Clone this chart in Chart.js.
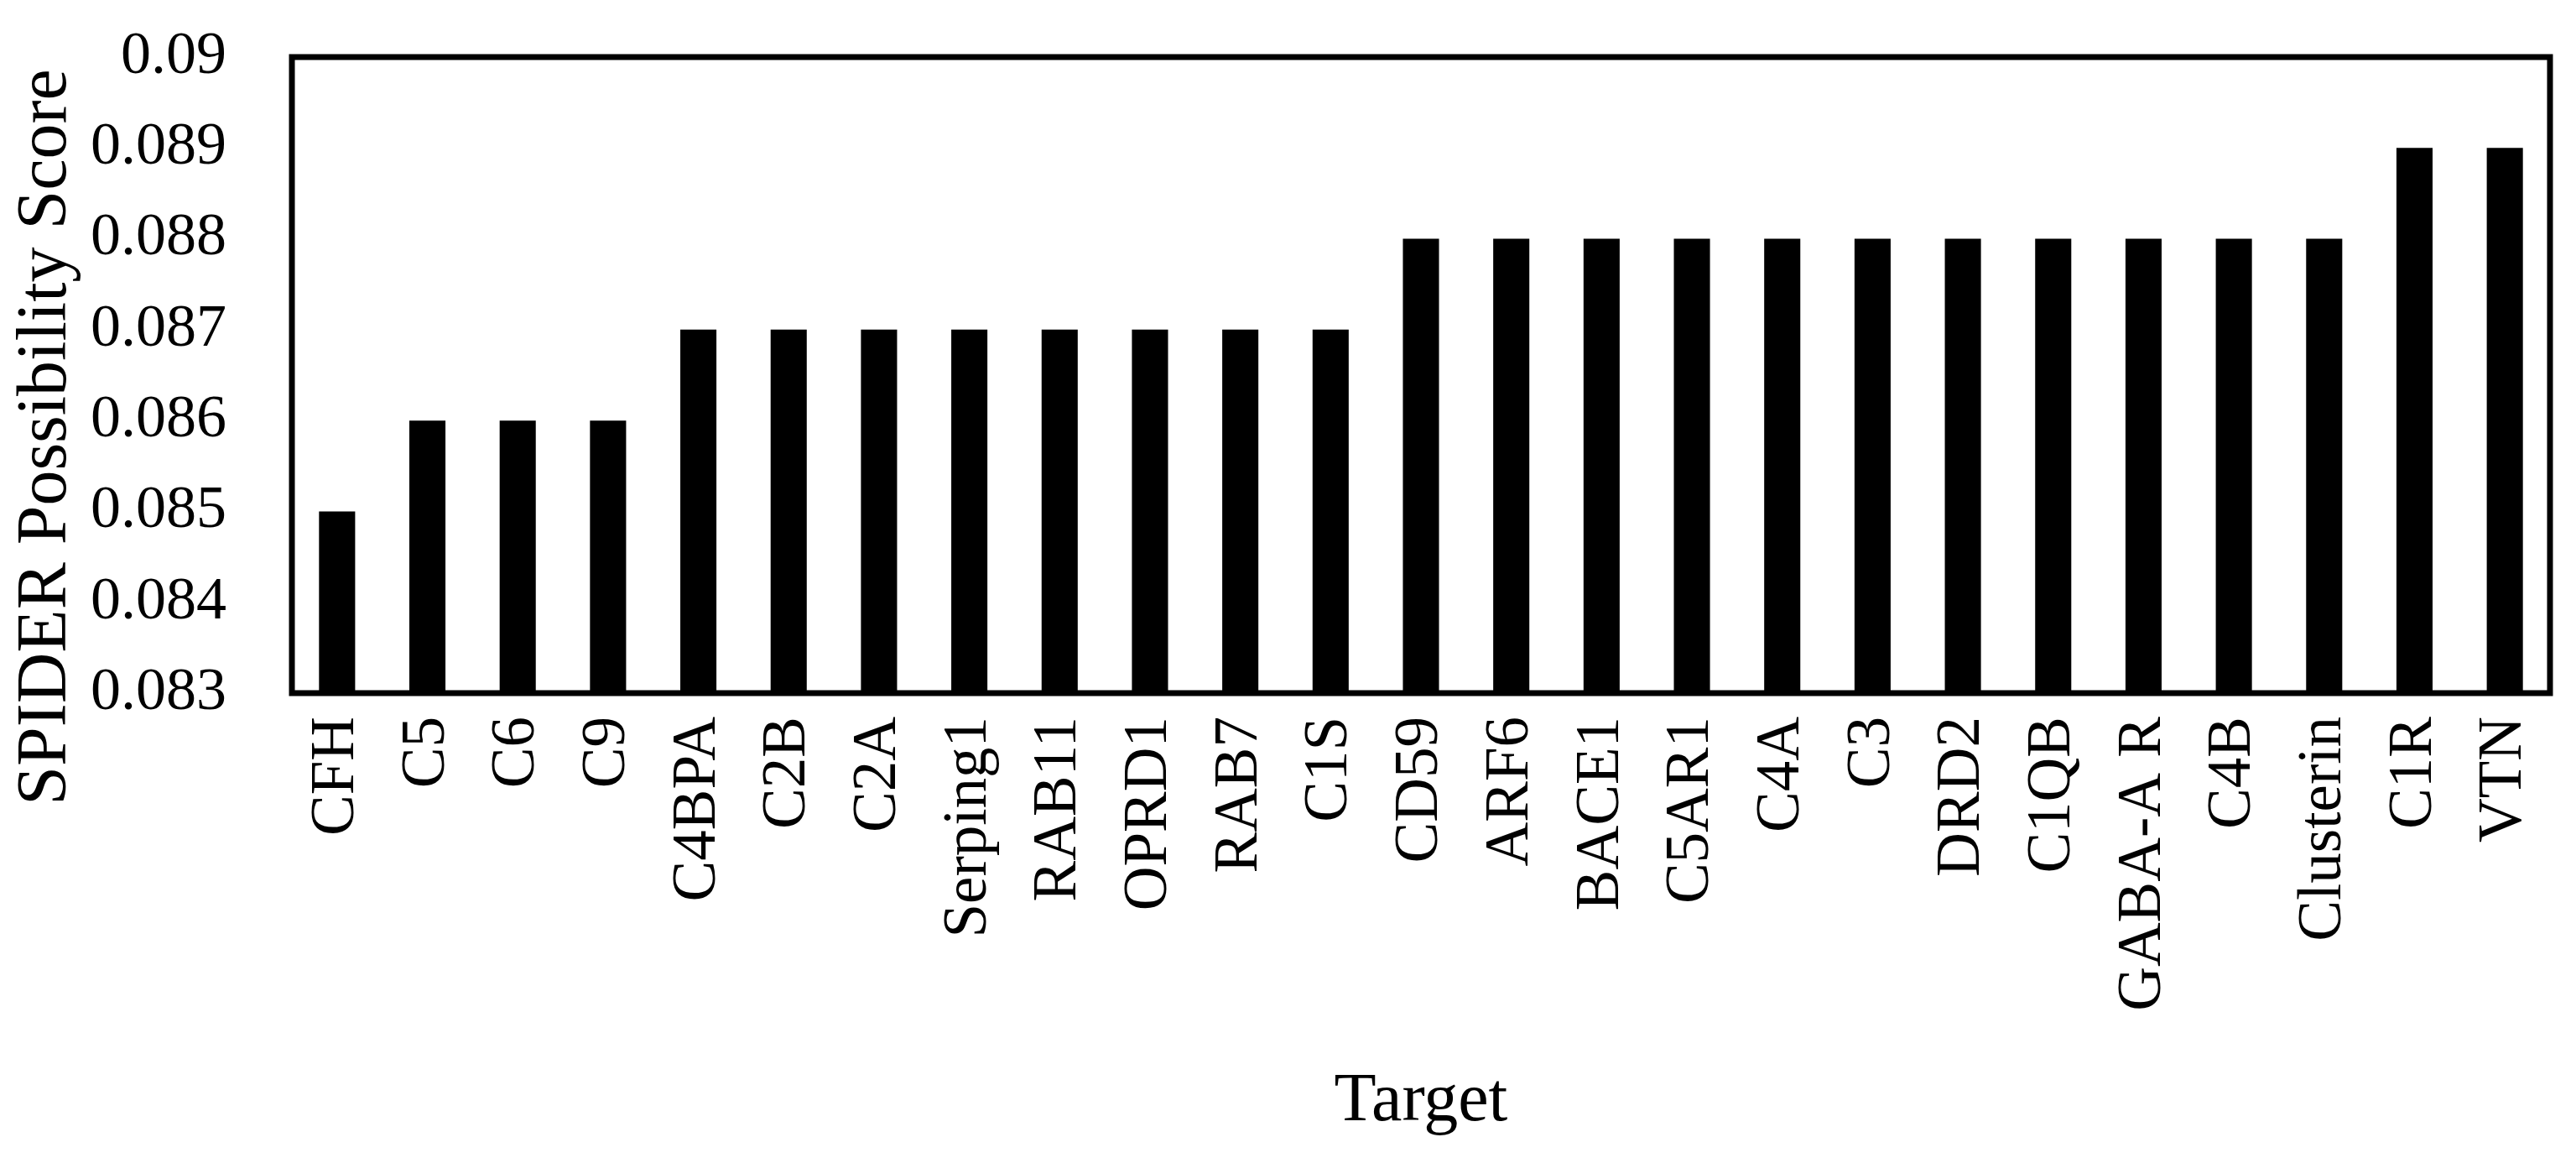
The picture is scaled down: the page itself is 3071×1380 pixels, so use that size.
<!DOCTYPE html>
<html>
<head>
<meta charset="utf-8">
<title>SPIDER Possibility Score</title>
<script src="https://cdn.jsdelivr.net/npm/chart.js@4.4.1/dist/chart.umd.min.js"></script>
<style>
    html, body { margin: 0; padding: 0; background: #fff; overflow: hidden; }
    #wrap { width: 3071px; height: 1380px; }
    canvas { display: block; }
</style>
</head>
<body>
<div id="wrap"><canvas id="scoreChart" width="3071" height="1380"></canvas></div>
<script>
const targets = ["CFH", "C5", "C6", "C9", "C4BPA", "C2B", "C2A", "Serping1", "RAB11", "OPRD1",
    "RAB7", "C1S", "CD59", "ARF6", "BACE1", "C5AR1", "C4A", "C3", "DRD2", "C1QB",
    "GABA-A R", "C4B", "Clusterin", "C1R", "VTN"];
const scores = [0.085, 0.086, 0.086, 0.086, 0.087, 0.087, 0.087, 0.087, 0.087, 0.087,
    0.087, 0.087, 0.088, 0.088, 0.088, 0.088, 0.088, 0.088, 0.088, 0.088,
    0.088, 0.088, 0.088, 0.089, 0.089];
const yMin = 0.083;
const yMax = 0.09;
const yStep = 0.001;

const xTitle = "Target";
const yTitle = "SPIDER Possibility Score";
const serif = "'Times New Roman', 'Liberation Serif', serif";

// frame round the plot and the two axis titles
const framePlugin = {
    id: "frame",
    afterDatasetsDraw(chart) {
        const a = chart.chartArea;
        const ctx = chart.ctx;
        ctx.save();
        ctx.strokeStyle = "#000";
        ctx.lineWidth = 7;
        ctx.strokeRect(a.left, a.top, a.right - a.left, a.bottom - a.top);
        ctx.restore();
    },
    afterDraw(chart) {
        const ctx = chart.ctx;
        ctx.save();
        ctx.fillStyle = "#000";
        ctx.textAlign = "center";
        ctx.textBaseline = "alphabetic";
        ctx.font = "82px " + serif;
        ctx.fillText(xTitle, (chart.chartArea.left + chart.chartArea.right) / 2, 1335);

        ctx.font = "84px " + serif;
        ctx.translate(78, 521);
        ctx.rotate(-Math.PI / 2);
        ctx.fillText(yTitle, 0, 0);
        ctx.restore();
    }
};

const ctx = document.getElementById("scoreChart").getContext("2d");

const chart = new Chart(ctx, {
    type: 'bar',
    data: {
        labels: targets,
        datasets: [{
            label: "SPIDER Possibility Score",
            data: scores,
            backgroundColor: "#000",
            borderWidth: 0,
            barPercentage: 0.4,
            categoryPercentage: 1.0
        }]
    },
    options: {
        responsive: false,
        animation: false,
        layout: {
            padding: { top: 68, right: 31, left: 0, bottom: 0 }
        },
        plugins: {
            legend: { display: false },
            tooltip: { enabled: false }
        },
        scales: {
            x: {
                grid: { display: false },
                border: { display: false },
                ticks: {
                    color: "#000",
                    font: { family: serif, size: 73 },
                    minRotation: 90,
                    maxRotation: 90,
                    autoSkip: false,
                    padding: 20
                },
                afterFit(scale) {
                    scale.height = 1380 - 826;
                    scale.paddingLeft = 0;
                    scale.paddingRight = 0;
                }
            },
            y: {
                min: yMin,
                max: yMax,
                grid: { display: false },
                border: { display: false },
                ticks: {
                    stepSize: yStep,
                    color: "#000",
                    font: { family: serif, size: 72 },
                    padding: 70,
                    callback: v => String(Number(v.toFixed(3)))
                },
                afterFit(scale) {
                    scale.width = 348;
                    scale.paddingTop = 0;
                    scale.paddingBottom = 0;
                }
            }
        }
    },
    plugins: [framePlugin]
});
</script>
</body>
</html>
